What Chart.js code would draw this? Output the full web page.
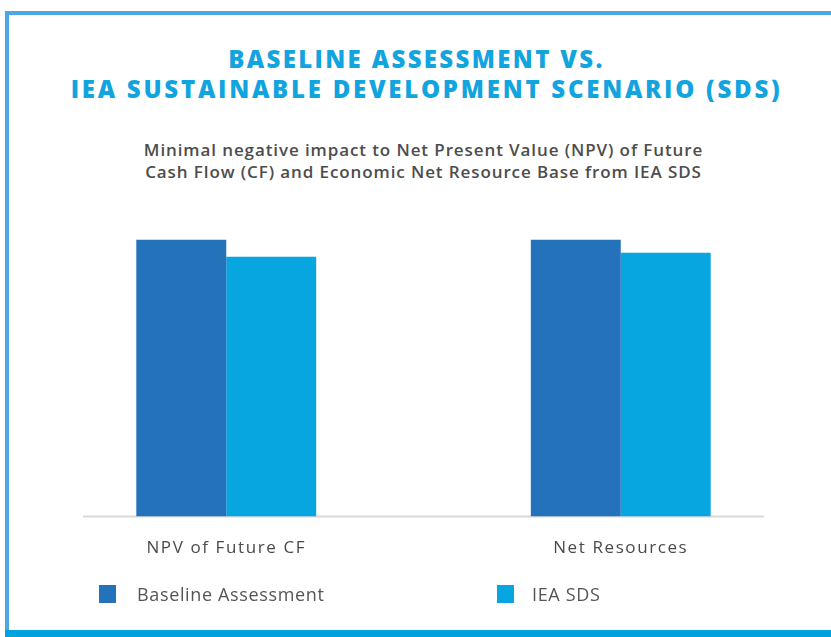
<!DOCTYPE html>
<html lang="en">
<head>
    <meta charset="UTF-8">
    <title>Baseline vs IEA SDS</title>
    <script src="https://cdn.jsdelivr.net/npm/chart.js"></script>
    <style>
        html, body { margin: 0; padding: 0; background: #fff; }
        body { width: 831px; height: 637px; position: relative; overflow: hidden; font-family: "Open Sans", sans-serif; }
        .frame { position: absolute; left: 5px; top: 11px; width: 900px; height: 619px; border-left: 4px solid #4ba8e2; border-top: 4px solid #4ba8e2; box-sizing: border-box; }
        .band { position: absolute; left: 5px; top: 630px; width: 826px; height: 7px; background: #00a3e0; }
        .title { position: absolute; left: 0; top: 44px; width: 853px; text-align: center; color: #12a4de; font-weight: 800; font-size: 24px; letter-spacing: 2.75px; line-height: 30px; }
        .title .l1 { position: relative; left: -10px; letter-spacing: 2.35px; }
        .subtitle { position: absolute; left: 0; top: 139px; width: 847px; text-align: center; color: #4d4d4d; font-weight: 600; font-size: 17px; letter-spacing: 0.9px; line-height: 22px; }
        #chartWrap { position: absolute; left: 0; top: 0; width: 831px; height: 637px; }
        .legend { position: absolute; top: 585px; font-size: 18px; letter-spacing: 0.65px; color: #555; }
        .legend span.box { position: absolute; width: 17px; height: 18px; left: 0; top: 0; }
        .legend span.txt { position: absolute; top: -3px; white-space: nowrap; }
    </style>
</head>
<body>
    <div class="frame"></div>
    <div class="band"></div>
    <div class="title"><span class="l1">BASELINE ASSESSMENT VS.</span><br>IEA SUSTAINABLE DEVELOPMENT SCENARIO (SDS)</div>
    <div class="subtitle">Minimal negative impact to Net Present Value (NPV) of Future<br>Cash Flow (CF) and Economic Net Resource Base from IEA SDS</div>
    <div id="chartWrap"><canvas id="barChart"></canvas></div>

    <script>
        // values indexed so baseline = 100
        const categories = ["NPV of Future CF", "Net Resources"];
        const seriesNames = ["Baseline Assessment", "IEA SDS"];
        const baselineValues = [100, 100];
        const sdsValues = [93.8, 95.3];
        const seriesColors = ["#2472ba", "#07a6e0"];

        // thin grey base line under the bars, plus wider tracking for the labels
        const baseLine = {
            id: "baseLine",
            beforeDraw(chart) {
                chart.ctx.letterSpacing = "1.6px";
            },
            beforeDatasetsDraw(chart) {
                const ctx = chart.ctx;
                const y = chart.scales.y.getPixelForValue(0);
                ctx.save();
                ctx.strokeStyle = "#d9d9d9";
                ctx.lineWidth = 2;
                ctx.beginPath();
                ctx.moveTo(83, y);
                ctx.lineTo(764, y);
                ctx.stroke();
                ctx.restore();
            }
        };

        new Chart(document.getElementById("barChart").getContext("2d"), {
            type: "bar",
            data: {
                labels: categories,
                datasets: [{
                    label: seriesNames[0],
                    data: baselineValues,
                    backgroundColor: seriesColors[0]
                }, {
                    label: seriesNames[1],
                    data: sdsValues,
                    backgroundColor: seriesColors[1]
                }]
            },
            options: {
                responsive: true,
                maintainAspectRatio: false,
                animation: false,
                categoryPercentage: 0.456,
                barPercentage: 1,
                layout: { padding: { left: 29, right: 13, top: 212, bottom: 58 } },
                plugins: {
                    legend: { display: false },
                    tooltip: { enabled: false }
                },
                scales: {
                    x: {
                        grid: { display: false, drawTicks: false },
                        border: { display: false },
                        ticks: {
                            padding: 21,
                            color: "#4a4a4a",
                            font: { family: "Open Sans", size: 17, weight: "500" }
                        }
                    },
                    y: {
                        display: false,
                        min: 0,
                        max: 110
                    }
                }
            },
            plugins: [baseLine]
        });

        // legend laid out as in the original figure
        const legendLeft = [99, 497];
        const textLeft = [38, 35];
        seriesNames.forEach((name, i) => {
            const item = document.createElement("div");
            item.className = "legend";
            item.style.left = legendLeft[i] + "px";
            item.innerHTML = `<span class="box" style="background:${seriesColors[i]}"></span><span class="txt" style="left:${textLeft[i]}px">${name}</span>`;
            document.body.appendChild(item);
        });
    </script>
</body>
</html>
